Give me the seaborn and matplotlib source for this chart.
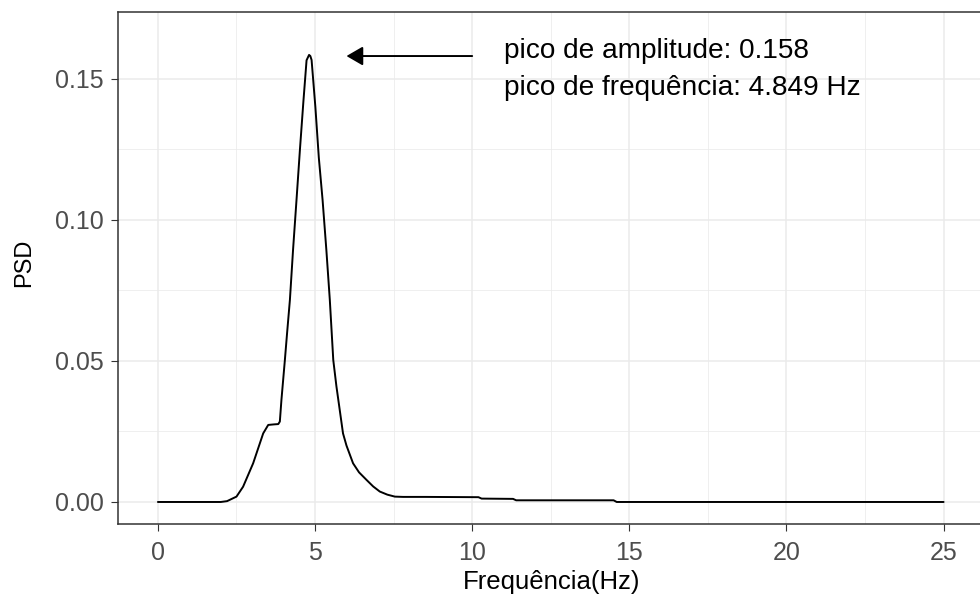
import numpy as np
import pandas as pd
import matplotlib
matplotlib.use("Agg")
import matplotlib.pyplot as plt
from matplotlib.ticker import MultipleLocator
import seaborn as sns

# ---- data ----
freq = [0, 1, 2.0, 2.2, 2.5, 2.71, 3.03, 3.35, 3.51, 3.70, 3.83, 3.88, 3.93,
        4.04, 4.11, 4.20, 4.30, 4.41, 4.52, 4.63, 4.73, 4.81, 4.85, 4.89,
        5.01, 5.12, 5.24, 5.36, 5.47, 5.58, 5.68, 5.89, 6.00, 6.21, 6.40,
        6.64, 6.85, 7.06, 7.30, 7.54, 7.80, 8.50, 10.2, 10.3, 11.3, 11.4, 14.5,
        14.6, 20.0, 25.0]
psd = [0, 0, 0, 0.0003, 0.0019, 0.0054, 0.0137, 0.0243, 0.0273, 0.0275, 0.0276,
       0.0285, 0.0361, 0.0503, 0.0598, 0.0716, 0.0893, 0.107, 0.125, 0.142,
       0.1565, 0.1584, 0.158, 0.1566, 0.140, 0.122, 0.107,
       0.0893, 0.0716, 0.0503, 0.041, 0.0243, 0.020, 0.0137, 0.0105, 0.0078,
       0.0055, 0.0037, 0.0026, 0.0019, 0.0018, 0.0018, 0.0017, 0.0012, 0.0011,
       0.0006, 0.0006, 0.0, 0.0, 0.0]
x_ticks = [0, 5, 10, 15, 20, 25]
y_ticks = [0.00, 0.05, 0.10, 0.15]
y_tick_labels = ["0.00", "0.05", "0.10", "0.15"]
peak_amp = 0.158
peak_freq = 4.849
annot_lines = [f"pico de amplitude: {peak_amp:.3f}",
               f"pico de frequência: {peak_freq:.3f} Hz"]

df = pd.DataFrame({"freq": freq, "psd": psd})

sns.set_theme(style="white")
plt.rcParams["font.family"] = ["Liberation Sans", "DejaVu Sans"]

fig = plt.figure(figsize=(9.8, 6.04), dpi=100)
ax = fig.add_axes([118 / 980, 1 - 524 / 604, 868 / 980, 512 / 604])

sns.lineplot(data=df, x="freq", y="psd", color="black", linewidth=1.4,
             ax=ax, sort=True, estimator=None)

ax.set_xlim(-1.27, 26.35)
ax.set_ylim(-0.0078, 0.1736)

ax.set_xticks(x_ticks)
ax.set_xticklabels([str(t) for t in x_ticks])
ax.set_yticks(y_ticks)
ax.set_yticklabels(y_tick_labels)
ax.xaxis.set_minor_locator(MultipleLocator(2.5))
ax.yaxis.set_minor_locator(MultipleLocator(0.025))

ax.set_axisbelow(True)
ax.grid(which="major", color="#EBEBEB", linewidth=1.1)
ax.grid(which="minor", color="#EBEBEB", linewidth=0.55)

for sp in ax.spines.values():
    sp.set_color("#333333")
    sp.set_linewidth(1.1)

ax.tick_params(which="major", direction="out", length=5, width=0.8,
               color="#333333", labelcolor="#4D4D4D", labelsize=18, pad=5,
               bottom=True, left=True)
ax.tick_params(axis="x", which="major", pad=7)
ax.tick_params(which="minor", length=0)

ax.set_xlabel("Frequência(Hz)", fontsize=18.5, color="black")
ax.set_ylabel("PSD", fontsize=17, color="black")
ax.xaxis.set_label_coords(0.5, -0.090)
ax.yaxis.set_label_coords(-0.096, 0.51)

# arrow and annotation
ax.annotate("", xy=(6, peak_amp), xytext=(10, peak_amp),
            arrowprops=dict(arrowstyle="-|>,head_length=1.0,head_width=0.58",
                            color="black", lw=1.4, mutation_scale=10,
                            shrinkA=0, shrinkB=0))
ax.text(11, 0.1572, annot_lines[0], fontsize=20.2, color="black",
        ha="left", va="baseline")
ax.text(11, 0.1442, annot_lines[1], fontsize=20.2, color="black",
        ha="left", va="baseline")

fig.savefig("out.png", dpi=100)
